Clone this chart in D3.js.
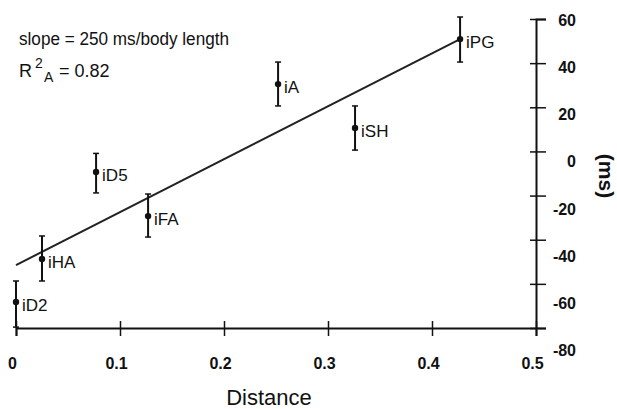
<!DOCTYPE html>
<html>
<head>
<meta charset="utf-8">
<script src="https://cdn.jsdelivr.net/npm/d3@7"></script>
<style>
  body { margin: 0; background: #fff; }
  text { font-family: "Liberation Sans", Arial, sans-serif; fill: #111; }
</style>
</head>
<body>
<div id="chart"></div>
<script>
  // data
  var names = ["iD2", "iHA", "iD5", "iFA", "iA", "iSH", "iPG"]
  var dist = [0, 0.025, 0.077, 0.127, 0.252, 0.326, 0.427]
  var delay = [-68.2, -48.7, -9.3, -29.3, 30.5, 10.6, 50.9]
  var errHigh = [-58.7, -38.3, -0.9, -19.3, 40.5, 20.6, 60.9]
  var errLow = [-79.6, -58.7, -18.8, -38.8, 20.6, 0.6, 40.5]
  var fitX = [0, 0.427]
  var fitY = [-51.5, 50.9]
  var xTicks = [0, 0.1, 0.2, 0.3, 0.4, 0.5]
  var yTicks = [60, 40, 20, 0, -20, -40, -60, -80]

  var width = 617
  var height = 409

  var svg = d3.select("#chart")
    .append("svg")
    .attr("width", width)
    .attr("height", height)

  var x = d3.scaleLinear().domain([0, 0.5]).range([16, 536])
  var y = d3.scaleLinear().domain([-80, 60]).range([328, 19])
  // the printed y labels drift a bit from their ticks
  var yLab = d3.scaleLinear().domain([-80, 60]).range([350, 20])

  // x axis
  var gx = svg.append("g")
    .attr("transform", "translate(0," + y(-80) + ")")
    .call(d3.axisBottom(x).tickValues(xTicks).tickSize(8).tickFormat(d3.format("")))
  gx.select(".domain").attr("stroke", "#111").attr("stroke-width", 2)
  gx.selectAll(".tick line").attr("y1", -7).attr("stroke", "#111").attr("stroke-width", 1.5)
  gx.selectAll(".tick text")
    .attr("y", 41)
    .attr("dy", 0)
    .attr("x", -4)
    .style("font-size", "16px")
    .style("font-weight", "bold")
    .style("fill", "#111")

  // y axis on the right
  var gy = svg.append("g")
    .attr("transform", "translate(" + x(0.5) + ",0)")
    .call(d3.axisRight(y).tickValues(yTicks).tickSize(10).tickFormat(d3.format("")))
  gy.select(".domain").attr("stroke", "#111").attr("stroke-width", 2)
  gy.selectAll(".tick line").attr("x1", -6).attr("stroke", "#111").attr("stroke-width", 1.5)
  gy.selectAll(".tick text").remove()
  svg.append("g").selectAll("text")
    .data(yTicks)
    .enter()
    .append("text")
    .attr("x", 576)
    .attr("y", function (d) { return yLab(d) + 6 })
    .attr("text-anchor", "end")
    .style("font-size", "16px")
    .style("font-weight", "bold")
    .text(function (d) { return d })

  // axis titles
  svg.append("text")
    .attr("x", 269)
    .attr("y", 405)
    .attr("text-anchor", "middle")
    .style("font-size", "22px")
    .text("Distance")

  svg.append("text")
    .attr("transform", "translate(599,176) rotate(90)")
    .attr("text-anchor", "middle")
    .style("font-size", "21px")
    .style("font-weight", "bold")
    .text("(ms)")

  // fit line
  var line = d3.line()
    .x(function (d) { return x(d[0]) })
    .y(function (d) { return y(d[1]) })
  svg.append("path")
    .datum(d3.zip(fitX, fitY))
    .attr("d", line)
    .attr("fill", "none")
    .attr("stroke", "#222")
    .attr("stroke-width", 2)

  var pts = names.map(function (n, i) {
    return { name: n, x: dist[i], y: delay[i], hi: errHigh[i], lo: errLow[i] }
  })

  var g = svg.append("g")
  var pt = g.selectAll("g.pt")
    .data(pts)
    .enter()
    .append("g")
    .attr("class", "pt")

  pt.append("line")
    .attr("x1", function (d) { return x(d.x) })
    .attr("x2", function (d) { return x(d.x) })
    .attr("y1", function (d) { return y(d.hi) })
    .attr("y2", function (d) { return y(d.lo) })
    .attr("stroke", "#111")
    .attr("stroke-width", 2)

  pt.selectAll("line.cap")
    .data(function (d) { return [[d.x, d.hi], [d.x, d.lo]] })
    .enter()
    .append("line")
    .attr("class", "cap")
    .attr("x1", function (d) { return x(d[0]) - 3 })
    .attr("x2", function (d) { return x(d[0]) + 3 })
    .attr("y1", function (d) { return y(d[1]) })
    .attr("y2", function (d) { return y(d[1]) })
    .attr("stroke", "#111")
    .attr("stroke-width", 1.5)

  pt.append("circle")
    .attr("cx", function (d) { return x(d.x) })
    .attr("cy", function (d) { return y(d.y) })
    .attr("r", 3.2)
    .attr("fill", "#111")

  pt.append("text")
    .attr("x", function (d) { return x(d.x) + 6 })
    .attr("y", function (d) { return y(d.y) + 9 })
    .style("font-size", "17px")
    .text(function (d) { return d.name })

  // annotation
  svg.append("text")
    .attr("x", 19)
    .attr("y", 45)
    .attr("textLength", 210)
    .attr("lengthAdjust", "spacingAndGlyphs")
    .style("font-size", "18px")
    .text("slope = 250 ms/body length")

  var r2 = svg.append("text")
    .attr("x", 19)
    .attr("y", 77)
    .style("font-size", "18px")
  r2.append("tspan").text("R")
  r2.append("tspan").attr("x", 35).attr("y", 68).style("font-size", "14px").text("2")
  r2.append("tspan").attr("x", 44).attr("y", 82).style("font-size", "14px").text("A")
  r2.append("tspan").attr("x", 59).attr("y", 77).text("= 0.82")
</script>
</body>
</html>
